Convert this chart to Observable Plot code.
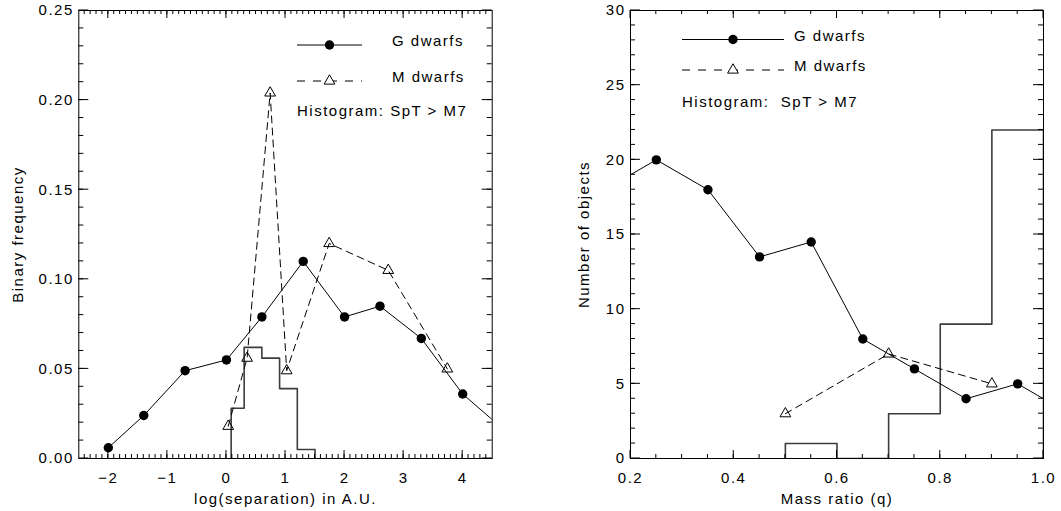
<!DOCTYPE html>
<html><head><meta charset="utf-8">
<script src="https://cdn.jsdelivr.net/npm/d3@7"></script>
<script src="https://cdn.jsdelivr.net/npm/@observablehq/plot@0.6"></script>
<style>
html,body{margin:0;padding:0;background:#fff;}
#wrap{display:flex;width:1061px;height:511px;overflow:hidden;}
svg text{letter-spacing:1.5px;}
</style></head><body><div id="wrap"></div>
<script>
// ---------- Left panel: binary frequency vs log(separation) ----------
const sepG  = [-2.0, -1.4, -0.7, 0.0, 0.6, 1.3, 2.0, 2.6, 3.3, 4.0, 4.7];
const freqG = [0.006, 0.024, 0.049, 0.055, 0.079, 0.110, 0.079, 0.085, 0.067, 0.036, 0.016];
const sepM  = [0.03, 0.35, 0.74, 1.02, 1.74, 2.74, 3.74];
const freqM = [0.018, 0.056, 0.204, 0.049, 0.120, 0.105, 0.050];
const sepHistEdges = [0.08, 0.3, 0.6, 0.9, 1.2, 1.5];
const sepHistFreq  = [0.028, 0.062, 0.056, 0.039, 0.005];

// ---------- Right panel: number of objects vs mass ratio ----------
const qG = [0.15, 0.25, 0.35, 0.45, 0.55, 0.65, 0.75, 0.85, 0.95, 1.05];
const nG = [18, 20, 18, 13.5, 14.5, 8, 6, 4, 5, 3];
const qM = [0.5, 0.7, 0.9];
const nM = [3, 7, 5];
const qHistEdges  = [0.5, 0.6, 0.7, 0.8, 0.9, 1.0];
const qHistCounts = [1, 0, 3, 9, 22];

// ---------- ticks & labels ----------
const sepTicks  = [-2, -1, 0, 1, 2, 3, 4];
const freqTicks = [0, 0.05, 0.10, 0.15, 0.20, 0.25];
const qTicks    = [0.2, 0.4, 0.6, 0.8, 1.0];
const nTicks    = [0, 5, 10, 15, 20, 25, 30];
const sepMinor  = d3.range(-24, 45).map(d => d / 10);
const freqMinor = d3.range(1, 25).map(d => d / 100);
const qMinor    = d3.range(5, 20).map(d => d / 20);
const nMinor    = d3.range(1, 30);

const seriesNames = ["G dwarfs", "M dwarfs"];
const histLabelLeft  = "Histogram: SpT > M7";
const histLabelRight = "Histogram:  SpT > M7";
const leftXTitle  = "log(separation) in A.U.";
const leftYTitle  = "Binary frequency";
const rightXTitle = "Mass ratio (q)";
const rightYTitle = "Number of objects";

const FONT = "'Liberation Sans', Arial, sans-serif";

function table(xs, ys) { return xs.map((x, i) => ({x, y: ys[i]})); }
function steps(edges, vals) {
  const pts = [{x: edges[0], y: 0}];
  vals.forEach((v, i) => pts.push({x: edges[i], y: v}));
  pts.push({x: edges[edges.length - 1], y: vals[vals.length - 1]});
  pts.push({x: edges[edges.length - 1], y: 0});
  return pts;
}
function axes(xMaj, yMaj, xFmt, yFmt, xTitle, yTitle, yTitleDx) {
  return [
    Plot.axisX(xMaj, {anchor: "bottom", tickSize: 0, tickPadding: 14, tickFormat: xFmt, label: null}),
    Plot.axisY(yMaj, {anchor: "left", tickSize: 0, tickPadding: 5, tickFormat: yFmt, label: null}),
    Plot.frame({stroke: "black", strokeWidth: 1}),
    Plot.text([xTitle], {text: d => d, frameAnchor: "bottom", dy: 41, lineAnchor: "middle", textAnchor: "middle"}),
    Plot.text([yTitle], {text: d => d, frameAnchor: "left", dx: yTitleDx, rotate: -90, lineAnchor: "middle", textAnchor: "middle"})
  ];
}
function seriesMarks(gx, gy, mx, my, hx, hy) {
  return [
    Plot.line(steps(hx, hy), {x: "x", y: "y", curve: "step-after", stroke: "#3c3c3c", strokeWidth: 1.6, clip: true}),
    Plot.line(table(gx, gy), {x: "x", y: "y", stroke: "black", strokeWidth: 1, clip: true}),
    Plot.line(table(mx, my), {x: "x", y: "y", stroke: "black", strokeWidth: 1, strokeDasharray: "7,5", clip: true}),
    Plot.dot(table(gx, gy), {x: "x", y: "y", r: 4.7, fill: "black", clip: true}),
    Plot.dot(table(mx, my), {x: "x", y: "y", r: 4, symbol: "triangle", fill: "none", stroke: "black", strokeWidth: 1, clip: true})
  ];
}
// inward ticks on all four sides, placed through the plot's own scales
function ticks(svg, xMaj, xMin, yMaj, yMin) {
  const sx = svg.scale("x"), sy = svg.scale("y");
  const [xa, xb] = sx.range, [yb, ya] = sy.range; // yb bottom, ya top
  const g = d3.select(svg).append("g").attr("stroke", "black").attr("stroke-width", 1).attr("fill", "none");
  const vx = (vals, len) => vals.forEach(v => {
    const px = sx.apply(v);
    g.append("line").attr("x1", px).attr("x2", px).attr("y1", yb).attr("y2", yb - len);
    g.append("line").attr("x1", px).attr("x2", px).attr("y1", ya).attr("y2", ya + len);
  });
  const vy = (vals, len) => vals.forEach(v => {
    const py = sy.apply(v);
    g.append("line").attr("y1", py).attr("y2", py).attr("x1", xa).attr("x2", xa + len);
    g.append("line").attr("y1", py).attr("y2", py).attr("x1", xb).attr("x2", xb - len);
  });
  vx(xMin, 4); vx(xMaj, 8); vy(yMin, 5); vy(yMaj, 10);
}
function legend(svg, L, histLabel) {
  const g = d3.select(svg).append("g").attr("font-family", FONT).attr("font-size", 15).attr("text-anchor", "start");
  g.append("line").attr("x1", L.x1).attr("x2", L.x2).attr("y1", L.yG).attr("y2", L.yG).attr("stroke", "black");
  g.append("circle").attr("cx", L.xm).attr("cy", L.yG).attr("r", 4.7).attr("fill", "black");
  g.append("line").attr("x1", L.x1).attr("x2", L.x2).attr("y1", L.yM).attr("y2", L.yM)
    .attr("stroke", "black").attr("stroke-dasharray", "8,8");
  g.append("path").attr("d", d3.symbol(d3.symbolTriangle, Math.PI * 16)())
    .attr("transform", `translate(${L.xm},${L.yM})`).attr("fill", "white").attr("stroke", "black");
  g.append("text").attr("x", L.xt).attr("y", L.yG + 1).text(seriesNames[0]);
  g.append("text").attr("x", L.xt).attr("y", L.yM + 1).text(seriesNames[1]);
  g.append("text").attr("x", L.x1).attr("y", L.yH).style("white-space", "pre").text(histLabel);
}

const common = {height: 511, marginTop: 10, marginBottom: 53,
  style: {fontFamily: FONT, fontSize: "15px", background: "white", color: "black", overflow: "visible"}};

const left = Plot.plot({
  ...common, width: 530, marginLeft: 78.3, marginRight: 38.3,
  x: {domain: [-2.5, 4.5]}, y: {domain: [0, 0.25]},
  marks: [
    ...seriesMarks(sepG, freqG, sepM, freqM, sepHistEdges, sepHistFreq),
    ...axes(sepTicks, freqTicks, d3.format("d"), d3.format(".2f"), leftXTitle, leftYTitle, -60.7)
  ]
});
const right = Plot.plot({
  ...common, width: 531, marginLeft: 100, marginRight: 18,
  x: {domain: [0.2, 1.0]}, y: {domain: [0, 30]},
  marks: [
    ...seriesMarks(qG, nG, qM, nM, qHistEdges, qHistCounts),
    ...axes(qTicks, nTicks, d3.format(".1f"), d3.format("d"), rightXTitle, rightYTitle, -46)
  ]
});
document.getElementById("wrap").append(left, right);
ticks(left, sepTicks, sepMinor, freqTicks, freqMinor);
ticks(right, qTicks, qMinor, nTicks, nMinor);
legend(left, {x1: 297, x2: 362, xm: 329.5, xt: 392, yG: 45, yM: 81, yH: 116}, histLabelLeft);
legend(right, {x1: 152, x2: 254, xm: 203, xt: 264, yG: 39.5, yM: 70, yH: 106.5}, histLabelRight);
</script></body></html>
